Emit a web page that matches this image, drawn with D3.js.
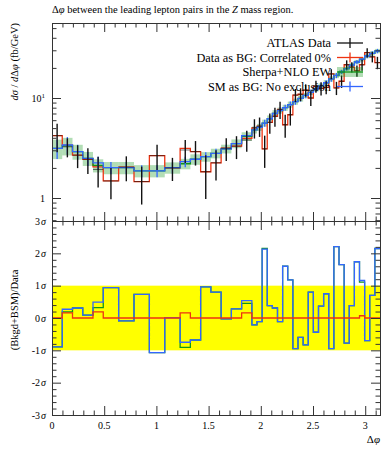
<!DOCTYPE html>
<html>
<head>
<meta charset="utf-8">
<script src="https://cdn.jsdelivr.net/npm/d3@7.9.0/dist/d3.min.js"></script>
<style>
  body { margin: 0; background: #fff; }
  svg { display: block; font-family: "Liberation Serif", "DejaVu Serif", serif; }
  .axis path { display: none; }
  .axis line { stroke: #333; }
</style>
</head>
<body>
<svg id="chart" width="392" height="450"></svg>
<script>
// bin edges in units of pi/64
const binEdges = [0, 2, 4, 6, 8, 10, 13, 16, 19, 22, 25, 27, 29, 31, 33, 35, 37, 39,
  40, 41, 42, 43, 44, 45, 46, 47, 48, 49, 50, 51, 52, 53, 54, 55, 56, 57, 58, 59, 60, 61, 62, 63, 64];

const atlasData = [4.2, 3.25, 2.68, 2.44, 1.93, 1.48, 2.04, 1.46, 2.65, 2.0,
  3.02, 2.91, 1.83, 2.25, 3.15, 3.3, 3.8, 5.03, 5.23, 3.1,
  5.7, 6.57, 7.67, 5.4, 6.8, 10.7, 10.9, 12.0, 10.0, 13.1,
  12.5, 12.8, 17.4, 12.6, 14.7, 21.5, 20.4, 18.7, 21.4, 28.4,
  25.8, 22.6];
const atlasErr = [1.33, 0.7, 0.69, 0.7, 0.66, 0.51, 0.57, 0.6, 0.75, 0.52,
  0.78, 0.8, 0.85, 0.75, 0.8, 0.85, 0.9, 1.1, 1.15, 1.1,
  1.3, 1.4, 1.5, 1.4, 1.5, 1.6, 1.6, 1.7, 1.7, 1.8,
  1.9, 1.9, 2.0, 1.9, 2.1, 2.3, 2.4, 2.4, 2.7, 3.0,
  3.1, 3.2];
const dataBG = [4.2, 3.38, 2.68, 2.44, 2.05, 1.48, 2.04, 1.46, 2.65, 2.0,
  3.14, 2.91, 1.83, 2.25, 3.15, 3.3, 3.95, 5.03, 5.23, 3.1,
  5.7, 6.57, 7.67, 5.4, 6.8, 10.7, 10.9, 12.0, 10.0, 13.1,
  12.5, 12.8, 17.4, 12.6, 14.7, 21.5, 20.4, 18.7, 21.6, 28.4,
  25.8, 22.6];
const sherpa = [3.14, 3.33, 2.91, 2.49, 2.12, 2.01, 2.01, 1.87, 1.87, 2.01,
  2.2, 2.44, 2.59, 2.8, 3.1, 3.5, 4.13, 4.8, 5.1, 5.62,
  6.2, 7.0, 7.5, 8.0, 8.6, 9.2, 9.9, 10.6, 11.4, 12.3,
  13.2, 14.2, 15.5, 16.8, 18.2, 19.7, 21.3, 22.9, 24.4, 26.3,
  28.0, 29.5];
const smBG = [3.14, 3.39, 2.91, 2.49, 2.25, 2.01, 2.01, 1.87, 1.87, 2.01,
  2.31, 2.44, 2.59, 2.8, 3.1, 3.5, 4.2, 4.8, 5.1, 5.6,
  6.2, 7.0, 7.5, 8.0, 8.6, 9.2, 9.9, 10.6, 11.4, 12.3,
  13.2, 14.2, 15.5, 16.8, 18.2, 19.7, 21.3, 22.9, 24.5, 26.3,
  28.0, 29.5];
// relative MC uncertainty
const mcRelErr = [0.22, 0.2, 0.17, 0.16, 0.15, 0.14, 0.14, 0.14, 0.14, 0.13,
  0.12, 0.12, 0.11, 0.11, 0.1, 0.1, 0.1, 0.08, 0.08, 0.08,
  0.08, 0.08, 0.07, 0.07, 0.07, 0.07, 0.07, 0.06, 0.06, 0.06,
  0.06, 0.06, 0.06, 0.06, 0.05, 0.05, 0.05, 0.05, 0.05, 0.05,
  0.05, 0.05];

// ratio panel, in sigma
const ratioDataBG = [0, 0.16, 0, 0, 0.19, 0, 0, 0, 0, 0,
  0.16, 0, 0, 0, 0, 0, 0.16, 0, 0, 0,
  0, 0, 0, 0, 0, 0, 0, 0, 0, 0,
  0, 0, 0, 0, 0, 0, 0, 0, 0.07, 0,
  0, 0];
const ratioSherpa = [-0.89, 0.19, 0.31, 0.09, 0.32, 0.94, -0.09, 0.73, -1.07, 0.01,
  -0.91, -0.68, 0.96, 0.8, -0.03, 0.28, 0.45, -0.21, -0.11, 2.15,
  0.38, 0.31, -0.11, 1.6, 1.18, -0.95, -0.6, -0.83, 0.8, -0.44,
  0.37, 0.75, -0.95, 2.21, 1.65, -0.78, 0.38, 1.74, 1.11, -0.7,
  0.7, 2.15];
const ratioSM = [-0.89, 0.27, 0.31, 0.09, 0.49, 0.94, -0.09, 0.73, -1.07, 0.01,
  -0.75, -0.68, 0.96, 0.8, -0.03, 0.28, 0.54, -0.21, -0.11, 2.13,
  0.38, 0.31, -0.11, 1.6, 1.18, -0.95, -0.6, -0.83, 0.8, -0.44,
  0.37, 0.75, -0.95, 2.21, 1.65, -0.78, 0.38, 1.74, 1.16, -0.7,
  0.7, 2.15];

const xMajor = [0, 0.5, 1, 1.5, 2, 2.5, 3];
const sigmaTicks = [-3, -2, -1, 0, 1, 2, 3];

const RED = '#ee3311', GREEN = '#109618', BLUE = '#3366ff';

const svg = d3.select('#chart');
const L = 52, R = 380, T = 23, MID = 221, B = 415;

const edges = binEdges.map(e => e * Math.PI / 64);
const bins = d3.range(edges.length - 1).map(i => ({ x0: edges[i], x1: edges[i + 1] }));

const x = d3.scaleLinear().domain([0, Math.PI]).range([L, R]);
const y = d3.scaleLog().domain([Math.pow(10, -0.23), Math.pow(10, 1.75)]).range([MID, T]);
const r = d3.scaleLinear().domain([-3, 3]).range([B, MID]);

let xMinor = d3.range(0, 3.15, 0.1).filter(v => Math.abs(v * 2 - Math.round(v * 2)) > 1e-6);

function stepPts(vals) {
  let pts = [];
  bins.forEach((b, i) => { pts.push([b.x0, vals[i]]); pts.push([b.x1, vals[i]]); });
  return pts;
}

// ---------- top panel ----------
const gTop = svg.append('g');

// green band
bins.forEach((b, i) => {
  gTop.append('rect')
    .attr('x', x(b.x0)).attr('width', x(b.x1) - x(b.x0))
    .attr('y', y(sherpa[i] * (1 + mcRelErr[i])))
    .attr('height', y(sherpa[i] * (1 - mcRelErr[i])) - y(sherpa[i] * (1 + mcRelErr[i])))
    .attr('fill', GREEN).attr('fill-opacity', 0.32);
});

const lineTop = d3.line().x(d => x(d[0])).y(d => y(d[1]));
gTop.append('path').attr('d', lineTop(stepPts(dataBG)))
  .attr('fill', 'none').attr('stroke', RED).attr('stroke-width', 1.3);
gTop.append('path').attr('d', lineTop(stepPts(sherpa)))
  .attr('fill', 'none').attr('stroke', GREEN).attr('stroke-width', 1.3);
gTop.append('path').attr('d', lineTop(stepPts(smBG)))
  .attr('fill', 'none').attr('stroke', BLUE).attr('stroke-width', 1.3);

// blue error ticks
bins.forEach((b, i) => {
  let xc = x((b.x0 + b.x1) / 2);
  gTop.append('line').attr('x1', xc).attr('x2', xc)
    .attr('y1', y(smBG[i] * (1 - mcRelErr[i]))).attr('y2', y(smBG[i] * (1 + mcRelErr[i])))
    .attr('stroke', BLUE).attr('stroke-width', 1.3);
});

// ATLAS data points
bins.forEach((b, i) => {
  let xc = x((b.x0 + b.x1) / 2);
  gTop.append('line').attr('x1', xc).attr('x2', xc)
    .attr('y1', y(atlasData[i] - atlasErr[i])).attr('y2', y(atlasData[i] + atlasErr[i]))
    .attr('stroke', '#111').attr('stroke-width', 1.4);
  gTop.append('line').attr('x1', x(b.x0)).attr('x2', x(b.x1))
    .attr('y1', y(atlasData[i])).attr('y2', y(atlasData[i]))
    .attr('stroke', '#111').attr('stroke-width', 1.0).attr('stroke-opacity', 0.6);
});

// ---------- ratio panel ----------
const gBot = svg.append('g');
gBot.append('rect').attr('x', L).attr('width', R - L)
  .attr('y', r(1)).attr('height', r(-1) - r(1)).attr('fill', '#ffff00');

const lineR = d3.line().x(d => x(d[0])).y(d => r(d[1]));
gBot.append('path').attr('d', lineR(stepPts(ratioSherpa)))
  .attr('fill', 'none').attr('stroke', GREEN).attr('stroke-width', 1.3);
gBot.append('path').attr('d', lineR(stepPts(ratioSM)))
  .attr('fill', 'none').attr('stroke', BLUE).attr('stroke-width', 1.3);
gBot.append('path').attr('d', lineR(stepPts(ratioDataBG)))
  .attr('fill', 'none').attr('stroke', RED).attr('stroke-width', 1.3);

// ---------- axes ----------
function ticks(g, axis) { g.attr('class', 'axis').call(axis); }
const MAJ = 9, MIN = 4.5;

// x ticks: top panel top/bottom, ratio top/bottom
[[T, d3.axisTop], [MID, d3.axisBottom], [B, d3.axisBottom], [MID, d3.axisTop]].forEach(([yy, ax]) => {
  let g1 = svg.append('g').attr('transform', `translate(0,${yy})`);
  ticks(g1, ax(x).tickValues(xMajor).tickSize(-MAJ).tickFormat(''));
  let g2 = svg.append('g').attr('transform', `translate(0,${yy})`);
  ticks(g2, ax(x).tickValues(xMinor).tickSize(-MIN).tickFormat(''));
});

// log y ticks
const yMajor = [1, 10];
const yMinor = [0.6, 0.7, 0.8, 0.9, 2, 3, 4, 5, 6, 7, 8, 9, 20, 30, 40, 50];
[[L, d3.axisLeft], [R, d3.axisRight]].forEach(([xx, ax]) => {
  let g1 = svg.append('g').attr('transform', `translate(${xx},0)`);
  ticks(g1, ax(y).tickValues(yMajor).tickSize(-MAJ).tickFormat(''));
  let g2 = svg.append('g').attr('transform', `translate(${xx},0)`);
  ticks(g2, ax(y).tickValues(yMinor).tickSize(-MIN).tickFormat(''));
});
// sigma ticks
const sMinor = d3.range(-3, 3.01, 0.2).filter(v => Math.abs(v - Math.round(v)) > 1e-6);
[[L, d3.axisLeft], [R, d3.axisRight]].forEach(([xx, ax]) => {
  let g1 = svg.append('g').attr('transform', `translate(${xx},0)`);
  ticks(g1, ax(r).tickValues(sigmaTicks).tickSize(-MAJ).tickFormat(''));
  let g2 = svg.append('g').attr('transform', `translate(${xx},0)`);
  ticks(g2, ax(r).tickValues(sMinor).tickSize(-MIN).tickFormat(''));
});

// frames
svg.append('rect').attr('x', L + 0.5).attr('y', T + 0.5).attr('width', R - L).attr('height', MID - T)
  .attr('fill', 'none').attr('stroke', '#333');
svg.append('rect').attr('x', L + 0.5).attr('y', MID + 0.5).attr('width', R - L).attr('height', B - MID)
  .attr('fill', 'none').attr('stroke', '#333');

// ---------- labels ----------
const lab = svg.append('g').attr('font-size', 10).attr('fill', '#000');

xMajor.forEach(v => {
  lab.append('text').attr('x', x(v)).attr('y', B + 14).attr('text-anchor', 'middle').text(String(v));
});

// y labels top
lab.append('text').attr('x', L - 7).attr('y', y(1) + 3.5).attr('text-anchor', 'end').text('1');
{
  let t = lab.append('text').attr('x', L - 7).attr('y', y(10) + 3.5).attr('text-anchor', 'end');
  t.append('tspan').text('10');
  t.append('tspan').attr('dy', -4).attr('font-size', 7).text('1');
}
// sigma labels
sigmaTicks.forEach(v => {
  let t = lab.append('text').attr('x', L - 6).attr('y', r(v) + 3.5).attr('text-anchor', 'end');
  t.append('tspan').text(String(v));
  t.append('tspan').attr('font-style', 'italic').attr('dx', 1).text('σ');
});

// x axis title
{
  let t = lab.append('text').attr('x', R).attr('y', B + 28).attr('text-anchor', 'end').attr('font-size', 11);
  t.append('tspan').text('Δ');
  t.append('tspan').attr('font-style', 'italic').text('φ');
}

// y axis titles
{
  let t = lab.append('text').attr('transform', `translate(18,${T}) rotate(-90)`)
    .attr('text-anchor', 'end').attr('font-size', 10.5);
  t.append('tspan').attr('font-style', 'italic').text('dσ');
  t.append('tspan').text(' / ');
  t.append('tspan').attr('font-style', 'italic').text('d');
  t.append('tspan').text('Δ');
  t.append('tspan').attr('font-style', 'italic').text('φ');
  t.append('tspan').text(' (fb/GeV)');
}
lab.append('text').attr('transform', `translate(18,${(MID + B) / 2 - 8}) rotate(-90)`)
  .attr('text-anchor', 'middle').attr('font-size', 10.5).text('(Bkgd+BSM)/Data');

// title
{
  let t = lab.append('text').attr('x', L).attr('y', 13).attr('font-size', 10.5);
  t.append('tspan').text('Δ');
  t.append('tspan').attr('font-style', 'italic').text('φ');
  t.append('tspan').text(' between the leading lepton pairs in the ');
  t.append('tspan').attr('font-style', 'italic').text('Z');
  t.append('tspan').text(' mass region.');
}

// ---------- legend ----------
const legendItems = [
  { label: 'ATLAS Data', color: '#111', tick: true, band: false },
  { label: 'Data as BG: Correlated 0%', color: RED, tick: true, band: false },
  { label: 'Sherpa+NLO EW', color: GREEN, tick: false, band: true },
  { label: 'SM as BG: No exclusion', color: BLUE, tick: true, band: false }
];
const leg = svg.append('g').attr('font-size', 12.3);
legendItems.forEach((d, i) => {
  let yy = 43 + i * 14.5;
  leg.append('text').attr('x', 331).attr('y', yy + 4).attr('text-anchor', 'end').text(d.label);
  if (d.band) {
    leg.append('rect').attr('x', 337).attr('y', yy - 5).attr('width', 26).attr('height', 10)
      .attr('fill', GREEN).attr('fill-opacity', 0.32);
  }
  leg.append('line').attr('x1', 337).attr('x2', 363).attr('y1', yy).attr('y2', yy)
    .attr('stroke', d.color).attr('stroke-width', 1.3);
  if (d.tick) {
    leg.append('line').attr('x1', 350).attr('x2', 350).attr('y1', yy - 5).attr('y2', yy + 5)
      .attr('stroke', d.color).attr('stroke-width', 1.3);
  }
});
</script>
</body>
</html>
